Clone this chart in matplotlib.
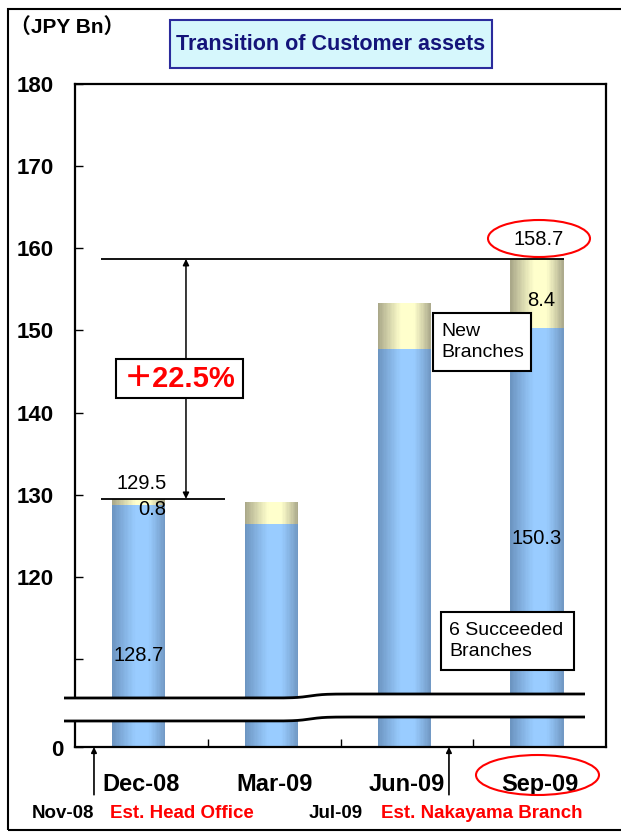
import numpy as np
import matplotlib
matplotlib.use("Agg")
import matplotlib.pyplot as plt
from matplotlib import font_manager
from matplotlib.patches import Rectangle, Ellipse, Polygon
from matplotlib.colors import to_rgb

# ---- data -------------------------------------------------------------
categories = ["Dec-08", "Mar-09", "Jun-09", "Sep-09"]
succeeded = [128.7, 126.4, 147.8, 150.3]      # 6 succeeded branches
new_branches = [0.8, 2.7, 5.5, 8.4]           # new branches
totals = list(np.round(np.add(succeeded, new_branches), 1))
y_ticks = [0, 110, 120, 130, 140, 150, 160, 170, 180]
y_tick_labels = ["0", "", "120", "130", "140", "150", "160", "170", "180"]
growth_label = "＋22.5%"

# ---- fonts ------------------------------------------------------------
available = {f.name for f in font_manager.fontManager.ttflist}
BASE = "Liberation Sans" if "Liberation Sans" in available else "DejaVu Sans"
plt.rcParams["font.family"] = [BASE, "Noto Sans CJK JP", "DejaVu Sans"]

W, H = 621, 836


def fx(px):
    return px / W


def fy(py):
    return 1 - py / H


fig = plt.figure(figsize=(W / 100, H / 100), dpi=100)
fig.patch.set_facecolor("white")
ax = fig.add_axes([fx(75), fy(747), (606 - 75) / W, (747 - 84) / H])

# broken value axis: 0..110 squeezed into the bottom strip
BREAK, FLOOR = 110.0, 99.3


def fwd(v):
    v = np.asarray(v, float)
    return np.where(v >= BREAK, v, FLOOR + v * (BREAK - FLOOR) / BREAK)


def inv(u):
    u = np.asarray(u, float)
    return np.where(u >= BREAK, u, (u - FLOOR) * BREAK / (BREAK - FLOOR))


ax.set_yscale("function", functions=(fwd, inv))
ax.set_xlim(0, 4)
ax.set_ylim(0, 180)

xpos = np.arange(len(categories)) + 0.48
bar_w = 0.4


def mix(c1, c2, t):
    a, b = np.array(to_rgb(c1)), np.array(to_rgb(c2))
    return tuple(a + (b - a) * t)


def gradient_bars(bottoms, heights, light, dark_l, dark_r, n=40):
    sw = bar_w / n
    for i in range(n):
        t = (i + 0.5) / n
        if t < 0.45:
            c = mix(light, dark_l, ((0.45 - t) / 0.45) ** 1.1)
        elif t > 0.68:
            c = mix(light, dark_r, ((t - 0.68) / 0.32) ** 1.1)
        else:
            c = to_rgb(light)
        ax.bar(xpos - bar_w / 2 + t * bar_w, heights, width=sw * 1.15,
               bottom=bottoms, color=c, linewidth=0, antialiased=False,
               zorder=2)


gradient_bars(0, succeeded, "#99ccff", "#6b93bf", "#7097c2")
gradient_bars(succeeded, new_branches, "#ffffcc", "#a7a587", "#a9a78a")

# ---- frame & ticks ------------------------------------------------------
for sp in ax.spines.values():
    sp.set_linewidth(1.6)
    sp.set_color("black")
ax.set_yticks(y_ticks)
ax.set_yticklabels([("" if v == 0 else s) for v, s in zip(y_ticks, y_tick_labels)],
                   fontsize=16, fontweight="bold")
ax.yaxis.set_minor_locator(matplotlib.ticker.NullLocator())
ax.tick_params(axis="y", direction="in", length=6, width=1, pad=15)
# the zero label sits closer to the axis than the others
fig.text(fx(63), fy(751), y_tick_labels[0], ha="right", va="center",
         fontsize=16, fontweight="bold")
ax.set_xticks([1, 2, 3])
ax.set_xticklabels([])
ax.tick_params(axis="x", direction="in", length=6, width=1)

for xc, lab in zip(np.arange(len(categories)) + 0.5, categories):
    ax.text(xc, -0.056, lab, transform=ax.get_xaxis_transform(),
            ha="center", va="center", fontsize=17, fontweight="bold")

# ---- growth indicator ---------------------------------------------------
ax.hlines(totals[3], 0.196, xpos[3] + bar_w / 2, color="black", lw=1.3, zorder=3)
ax.hlines(totals[0], 0.196, 1.13, color="black", lw=1.3, zorder=3)
ax.annotate("", xy=(0.836, totals[3]), xytext=(0.836, totals[0]),
            arrowprops=dict(arrowstyle="<|-|>", color="black", lw=1.1,
                            mutation_scale=9, shrinkA=0, shrinkB=0), zorder=3)
ax.add_patch(Rectangle((fx(116), fy(398)), (243 - 116) / W, (398 - 359) / H,
                       transform=fig.transFigure, facecolor="white",
                       edgecolor="black", lw=1.5, zorder=5, clip_on=False))
ax.text(fx(180), fy(379), growth_label, transform=fig.transFigure, ha="center",
        va="center", color="#ff0000", fontsize=21, fontweight="bold", zorder=6)

# ---- value labels -------------------------------------------------------
lab_kw = dict(textcoords="offset pixels", ha="center", va="center",
              fontsize=14.5, zorder=6)
ax.annotate(f"{totals[0]:.1f}", (xpos[0], totals[0]), xytext=(3, 15), **lab_kw)
ax.annotate(f"{new_branches[0]:.1f}", (xpos[0], totals[0]), xytext=(14, -11), **lab_kw)
ax.text(xpos[0], 110.4, f"{succeeded[0]:.1f}", ha="center", va="center",
        fontsize=14.5, zorder=6)
ax.annotate(f"{totals[3]:.1f}", (xpos[3], totals[3]), xytext=(2, 19), **lab_kw)
ax.text(xpos[3] + 0.03, 153.7, f"{new_branches[3]:.1f}", ha="center",
        va="center", fontsize=14.5, zorder=6)
ax.text(xpos[3], 124.7, f"{succeeded[3]:.1f}", ha="center", va="center",
        fontsize=14.5, zorder=6)

# highlight ellipses
ax.add_patch(Ellipse((fx(539), fy(238.5)), 102 / W, 37 / H,
                     transform=fig.transFigure, fill=False, edgecolor="#ff0000",
                     lw=1.5, zorder=7, clip_on=False))
ax.add_patch(Ellipse((fx(537.5), fy(775)), 123 / W, 40 / H,
                     transform=fig.transFigure, fill=False, edgecolor="#ff0000",
                     lw=1.5, zorder=7, clip_on=False))

# ---- segment captions ---------------------------------------------------
for (x0, y0, x1, y1), txt in [((433, 313, 531, 371), "New\nBranches"),
                              ((441, 612, 574, 670), "6 Succeeded\nBranches")]:
    ax.add_patch(Rectangle((fx(x0), fy(y1)), (x1 - x0) / W, (y1 - y0) / H,
                           transform=fig.transFigure, facecolor="white",
                           edgecolor="black", lw=1.5, zorder=8, clip_on=False))
    ax.text(fx(x0 + 8), fy((y0 + y1) / 2), txt, transform=fig.transFigure,
            ha="left", va="center", fontsize=14, linespacing=1.25, zorder=9)

# ---- axis break ---------------------------------------------------------
bx = np.linspace(64, 585, 300)
step = 0.5 * (1 + np.tanh((bx - 310) / 14))
top = 698 - 4 * step
bot = top + 23
band = np.column_stack([np.r_[fx(bx), fx(bx[::-1])], np.r_[fy(top), fy(bot[::-1])]])
ax.add_patch(Polygon(band, closed=True, transform=fig.transFigure,
                     facecolor="white", edgecolor="none", zorder=10, clip_on=False))
for yy in (top, bot):
    ax.plot(fx(bx), fy(yy), color="black", lw=2, transform=fig.transFigure,
            clip_on=False, zorder=11, solid_capstyle="butt")

# ---- opening events below the axis -------------------------------------
for xv in (0.143, 2.817):
    ax.annotate("", xy=(xv, 0), xycoords="data",
                xytext=(xv, -0.072), textcoords=("data", "axes fraction"),
                arrowprops=dict(arrowstyle="-|>", color="black", lw=1.2,
                                mutation_scale=8, shrinkA=0, shrinkB=0))
note_kw = dict(transform=fig.transFigure, ha="left", va="center",
               fontsize=13.5, fontweight="bold")
fig.text(fx(32), fy(814), "Nov-08", color="black", **note_kw)
fig.text(fx(110), fy(814), "Est. Head Office", color="#ff0000", **note_kw)
fig.text(fx(309), fy(814), "Jul-09", color="black", **note_kw)
fig.text(fx(381), fy(814), "Est. Nakayama Branch", color="#ff0000", **note_kw)

# ---- title, unit, outer frame ------------------------------------------
fig.patches.append(Rectangle((fx(170), fy(68)), (492 - 170) / W, (68 - 20) / H,
                             transform=fig.transFigure, facecolor="#d6f7fc",
                             edgecolor="#2b2b9c", lw=1.5))
fig.text(fx(331), fy(45), "Transition of Customer assets",
         ha="center", va="center", fontsize=15.5, fontweight="bold",
         color="#14147a")
fig.text(fx(10), fy(27), "（JPY Bn）", ha="left", va="center",
         fontsize=15, fontweight="bold")
fig.patches.append(Rectangle((fx(8), fy(830)), (640 - 8) / W, (830 - 9) / H,
                             transform=fig.transFigure, fill=False,
                             edgecolor="black", lw=1.5))

fig.savefig("out.png", dpi=100)
